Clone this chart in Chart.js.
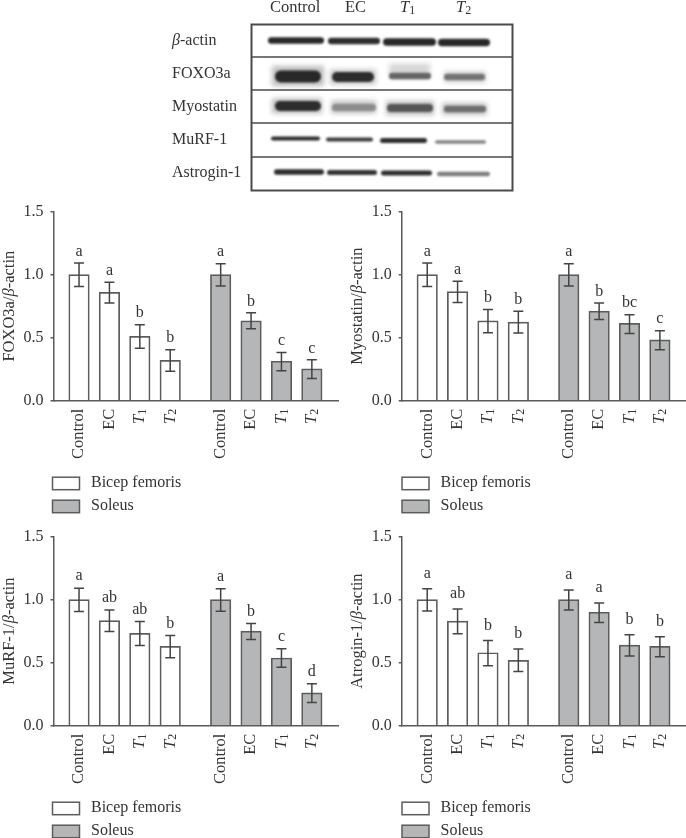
<!DOCTYPE html>
<html>
<head>
<meta charset="utf-8">
<title>Western blot and band density</title>
<script src="https://cdn.jsdelivr.net/npm/chart.js@4"></script>
<style>
    html, body { margin: 0; padding: 0; background: #fff; }
    body { position: relative; width: 686px; height: 838px; overflow: hidden; }
    canvas { position: absolute; display: block; }
</style>
</head>
<body>
<canvas id="blot" width="686" height="195" style="left:0;top:0"></canvas>
<canvas id="foxo" width="340" height="325" style="left:0;top:195px"></canvas>
<canvas id="myostatin" width="341" height="325" style="left:345px;top:195px"></canvas>
<canvas id="murf" width="340" height="318" style="left:0;top:520px"></canvas>
<canvas id="atrogin" width="341" height="318" style="left:345px;top:520px"></canvas>
<script>
// Categories and legend
const categories = ['Control', 'EC', 'T1', 'T2', 'Control', 'EC', 'T1', 'T2'];
const seriesNames = ['Bicep femoris', 'Soleus'];

// FOXO3a panel
const foxoValues = [1.0, 0.86, 0.51, 0.32, 1.0, 0.634, 0.313, 0.253];
const foxoUpper = [1.092, 0.94, 0.603, 0.405, 1.087, 0.697, 0.382, 0.324];
const foxoLower = [0.905, 0.774, 0.416, 0.234, 0.91, 0.571, 0.237, 0.176];
const foxoLetters = ['a', 'a', 'b', 'b', 'a', 'b', 'c', 'c'];

// Myostatin panel
const myostatinValues = [1.0, 0.866, 0.634, 0.624, 1.0, 0.71, 0.613, 0.482];
const myostatinUpper = [1.092, 0.947, 0.724, 0.71, 1.087, 0.774, 0.682, 0.555];
const myostatinLower = [0.905, 0.779, 0.539, 0.537, 0.91, 0.645, 0.534, 0.405];
const myostatinLetters = ['a', 'a', 'b', 'b', 'a', 'b', 'bc', 'c'];

// MuRF-1 panel
const murfValues = [1.0, 0.834, 0.732, 0.629, 1.0, 0.75, 0.537, 0.26];
const murfUpper = [1.09, 0.918, 0.826, 0.716, 1.087, 0.81, 0.61, 0.332];
const murfLower = [0.905, 0.747, 0.637, 0.539, 0.908, 0.684, 0.463, 0.184];
const murfLetters = ['a', 'ab', 'ab', 'b', 'a', 'b', 'c', 'd'];

// Atrogin-1 panel
const atroginValues = [1.0, 0.829, 0.579, 0.518, 1.0, 0.9, 0.639, 0.629];
const atroginUpper = [1.087, 0.926, 0.676, 0.608, 1.076, 0.974, 0.721, 0.705];
const atroginLower = [0.91, 0.729, 0.476, 0.429, 0.918, 0.818, 0.553, 0.547];
const atroginLetters = ['a', 'ab', 'b', 'b', 'a', 'a', 'b', 'b'];

const tickValues = [0, 0.5, 1.0, 1.5];

// Look of the figure
const FONT = '"Liberation Serif", serif';
const TEXT_COLOR = '#333333';
const AXIS_COLOR = '#5a5a5a';
const BAR_EDGE = '#5c5c5c';
const ERROR_COLOR = '#444444';
const SOLEUS_FILL = '#b4b6b7';
const GROUP_OFFSET = 1.66;   // second group sits this many slots further right than a plain slot

/**
 * Draw text made of mixed runs, e.g. italic T with an upright subscript.
 * Runs go left to right from x in the current transform.
 */
function drawRuns(ctx, runs, x, y) {
    let pos = x;
    runs.forEach(run => {
        ctx.font = `${run.italic ? 'italic ' : ''}${run.size}px ${FONT}`;
        ctx.fillText(run.text, pos, y + (run.shift || 0));
        pos += ctx.measureText(run.text).width;
    });
}

function runsWidth(ctx, runs) {
    return runs.reduce((sum, run) => {
        ctx.font = `${run.italic ? 'italic ' : ''}${run.size}px ${FONT}`;
        return sum + ctx.measureText(run.text).width;
    }, 0);
}

// T1 -> italic T + small upright digit, the rest stays plain
function labelRuns(label, size) {
    const m = label.match(/^T(\d)$/);
    if (m) {
        return [
            { text: 'T', italic: true, size: size },
            { text: m[1], size: size - 4.5, shift: 3 }
        ];
    }
    return [{ text: label, size: size }];
}

// "FOXO3a/beta-actin" titles, beta is italic
function betaRuns(before, after, size) {
    const runs = [];
    if (before) runs.push({ text: before, size: size });
    runs.push({ text: 'β', italic: true, size: size });
    runs.push({ text: after, size: size });
    return runs;
}

// Error bars, significance letters, rotated labels, y title and legend
function figureParts(cfg, positions) {
    return {
        id: 'figureParts',
        afterDraw(chart) {
            const { ctx, chartArea, scales: { x, y } } = chart;
            ctx.save();

            // error bars
            ctx.strokeStyle = ERROR_COLOR;
            ctx.lineWidth = 1.5;
            positions.forEach((pos, i) => {
                const px = x.getPixelForValue(pos);
                const top = y.getPixelForValue(cfg.upper[i]);
                const bottom = y.getPixelForValue(cfg.lower[i]);
                ctx.beginPath();
                ctx.moveTo(px, top);
                ctx.lineTo(px, bottom);
                ctx.moveTo(px - 5, top);
                ctx.lineTo(px + 5, top);
                ctx.moveTo(px - 5, bottom);
                ctx.lineTo(px + 5, bottom);
                ctx.stroke();
            });

            ctx.fillStyle = TEXT_COLOR;

            // significance letters
            ctx.font = `16px ${FONT}`;
            ctx.textAlign = 'center';
            ctx.textBaseline = 'middle';
            positions.forEach((pos, i) => {
                ctx.fillText(cfg.letters[i], x.getPixelForValue(pos), y.getPixelForValue(cfg.upper[i]) - cfg.letterGap);
            });

            // rotated category labels, top end just under the axis
            ctx.textAlign = 'left';
            positions.forEach((pos, i) => {
                const runs = labelRuns(categories[i], 16.5);
                ctx.save();
                ctx.translate(x.getPixelForValue(pos), chartArea.bottom + 8);
                ctx.rotate(-Math.PI / 2);
                drawRuns(ctx, runs, -runsWidth(ctx, runs), 0);
                ctx.restore();
            });

            // y axis title
            ctx.save();
            ctx.translate(cfg.titleX, (chartArea.top + chartArea.bottom) / 2);
            ctx.rotate(-Math.PI / 2);
            drawRuns(ctx, cfg.title, -runsWidth(ctx, cfg.title) / 2, 0);
            ctx.restore();

            // legend, stacked under the plot
            chart.data.datasets.forEach((ds, i) => {
                const boxTop = chartArea.bottom + 76.5 + i * 23;
                ctx.fillStyle = ds.backgroundColor;
                ctx.strokeStyle = BAR_EDGE;
                ctx.lineWidth = 1.5;
                ctx.fillRect(cfg.legendX, boxTop, 27, 12.5);
                ctx.strokeRect(cfg.legendX, boxTop, 27, 12.5);
                ctx.fillStyle = TEXT_COLOR;
                ctx.font = `16px ${FONT}`;
                ctx.fillText(ds.label, cfg.legendX + 38.5, boxTop + 6);
            });

            ctx.restore();
        }
    };
}

function renderPanel(id, cfg) {
    const canvas = document.getElementById(id);
    const positions = categories.map((c, i) => i < 4 ? i : i - 1 + GROUP_OFFSET);
    const toPoints = (from, to) => cfg.values.slice(from, to).map((v, i) => ({ x: positions[from + i], y: v }));
    const barStyle = {
        barThickness: 20.5,
        grouped: false,
        borderColor: BAR_EDGE,
        borderWidth: 1.7
    };

    new Chart(canvas.getContext('2d'), {
        type: 'bar',
        data: {
            datasets: [
                { label: seriesNames[0], data: toPoints(0, 4), backgroundColor: '#ffffff', ...barStyle },
                { label: seriesNames[1], data: toPoints(4, 8), backgroundColor: SOLEUS_FILL, ...barStyle }
            ]
        },
        options: {
            responsive: false,
            animation: false,
            layout: { padding: { top: 16, right: cfg.rightPad, left: 0, bottom: 0 } },
            plugins: {
                legend: { display: false },
                tooltip: { enabled: false }
            },
            scales: {
                x: {
                    type: 'linear',
                    offset: false,
                    min: -0.84,
                    max: 8.52,
                    grid: { display: false },
                    border: { color: AXIS_COLOR, width: 1.5 },
                    ticks: { display: false },
                    afterFit(scale) { scale.height = canvas.height - 205.7; }
                },
                y: {
                    min: 0,
                    max: 1.5,
                    afterBuildTicks(scale) { scale.ticks = tickValues.map(v => ({ value: v })); },
                    grid: { drawOnChartArea: false, drawTicks: true, tickLength: 3, color: AXIS_COLOR, lineWidth: 1.5 },
                    border: { color: AXIS_COLOR, width: 1.5 },
                    ticks: {
                        color: TEXT_COLOR,
                        padding: 7,
                        font: { family: FONT, size: 16 },
                        callback: value => value.toFixed(1)
                    },
                    afterFit(scale) { scale.width = cfg.axisLeft; }
                }
            }
        },
        plugins: [figureParts(cfg, positions)]
    });
}

const LEFT_PANEL = { axisLeft: 53.5, rightPad: 2, titleX: 9.5, legendX: 52.5 };
const RIGHT_PANEL = { axisLeft: 56.7, rightPad: 0, titleX: 12.5, legendX: 57 };

renderPanel('foxo', {
    ...LEFT_PANEL, values: foxoValues, upper: foxoUpper, lower: foxoLower, letters: foxoLetters,
    letterGap: 11.5, title: betaRuns('FOXO3a/', '-actin', 16.5)
});
renderPanel('myostatin', {
    ...RIGHT_PANEL, values: myostatinValues, upper: myostatinUpper, lower: myostatinLower, letters: myostatinLetters,
    letterGap: 11.5, title: betaRuns('Myostatin/', '-actin', 16.5)
});
renderPanel('murf', {
    ...LEFT_PANEL, values: murfValues, upper: murfUpper, lower: murfLower, letters: murfLetters,
    letterGap: 12, title: betaRuns('MuRF-1/', '-actin', 16.5)
});
renderPanel('atrogin', {
    ...RIGHT_PANEL, values: atroginValues, upper: atroginUpper, lower: atroginLower, letters: atroginLetters,
    letterGap: 15, title: betaRuns('Atrogin-1/', '-actin', 16.5)
});

// Western blot photo at the top, approximated with blurred bands
const blotRows = [
    { label: betaRuns('', '-actin', 16), y: 41 },
    { label: labelRuns('FOXO3a', 16), y: 74 },
    { label: labelRuns('Myostatin', 16), y: 107 },
    { label: labelRuns('MuRF-1', 16), y: 140 },
    { label: labelRuns('Astrogin-1', 16), y: 173 }
];
// [left, right, centre y, height, grey level]
const blotBands = [
    [268, 324, 40.5, 6.5, 40], [328, 380, 41, 6.5, 45], [383, 436, 42, 7.5, 40], [438, 490, 42.5, 7.5, 40],
    [275, 321, 76.5, 12, 40], [332, 374, 77, 10, 45], [389, 431, 76, 6.5, 100], [444, 485, 77, 6.5, 115],
    [275, 321, 106, 10, 45], [332, 376, 107.5, 7, 140], [387, 433, 108, 8, 85], [444, 486, 109, 6.5, 110],
    [271, 320, 138.5, 4, 45], [326, 373, 139.5, 4, 60], [380, 427, 140.5, 5, 45], [435, 486, 142, 3.5, 130],
    [274, 324, 172, 5.5, 45], [327, 377, 172.5, 5, 50], [381, 432, 173, 5, 45], [437, 490, 174, 4.5, 125]
];
const blotHalos = [
    [272, 324, 76, 20, 190], [330, 376, 77, 15, 200], [389, 430, 71, 15, 215], [444, 486, 77, 11, 210],
    [272, 322, 106, 15, 190], [331, 376, 107, 13, 195], [386, 434, 108, 14, 190], [442, 487, 109, 12, 195]
];
const blotDividers = [57, 90, 123, 157];

function drawBlot() {
    const ctx = document.getElementById('blot').getContext('2d');

    // soft halo first, then the band core
    blotHalos.forEach(([left, right, cy, h, grey]) => {
        ctx.filter = 'blur(2.5px)';
        ctx.fillStyle = `rgb(${grey},${grey},${grey})`;
        ctx.fillRect(left, cy - h / 2, right - left, h);
    });
    blotBands.forEach(([left, right, cy, h, grey]) => {
        ctx.filter = 'blur(1px)';
        ctx.fillStyle = `rgb(${grey},${grey},${grey})`;
        ctx.beginPath();
        ctx.roundRect(left, cy - h / 2, right - left, h, h / 2);
        ctx.fill();
    });
    ctx.filter = 'none';

    ctx.strokeStyle = '#4a4a4a';
    ctx.lineWidth = 2;
    ctx.strokeRect(251.5, 24.5, 261, 166);
    ctx.lineWidth = 1.5;
    blotDividers.forEach(y => {
        ctx.beginPath();
        ctx.moveTo(251, y);
        ctx.lineTo(513, y);
        ctx.stroke();
    });

    ctx.fillStyle = TEXT_COLOR;
    ctx.textBaseline = 'middle';
    ctx.textAlign = 'left';
    blotRows.forEach(row => drawRuns(ctx, row.label, 172, row.y));

    [[270, 0], [345, 1], [400, 2], [456, 3]].forEach(([x, i]) => {
        drawRuns(ctx, labelRuns(categories[i], 16.5), x, 8);
    });
}

drawBlot();
</script>
</body>
</html>
